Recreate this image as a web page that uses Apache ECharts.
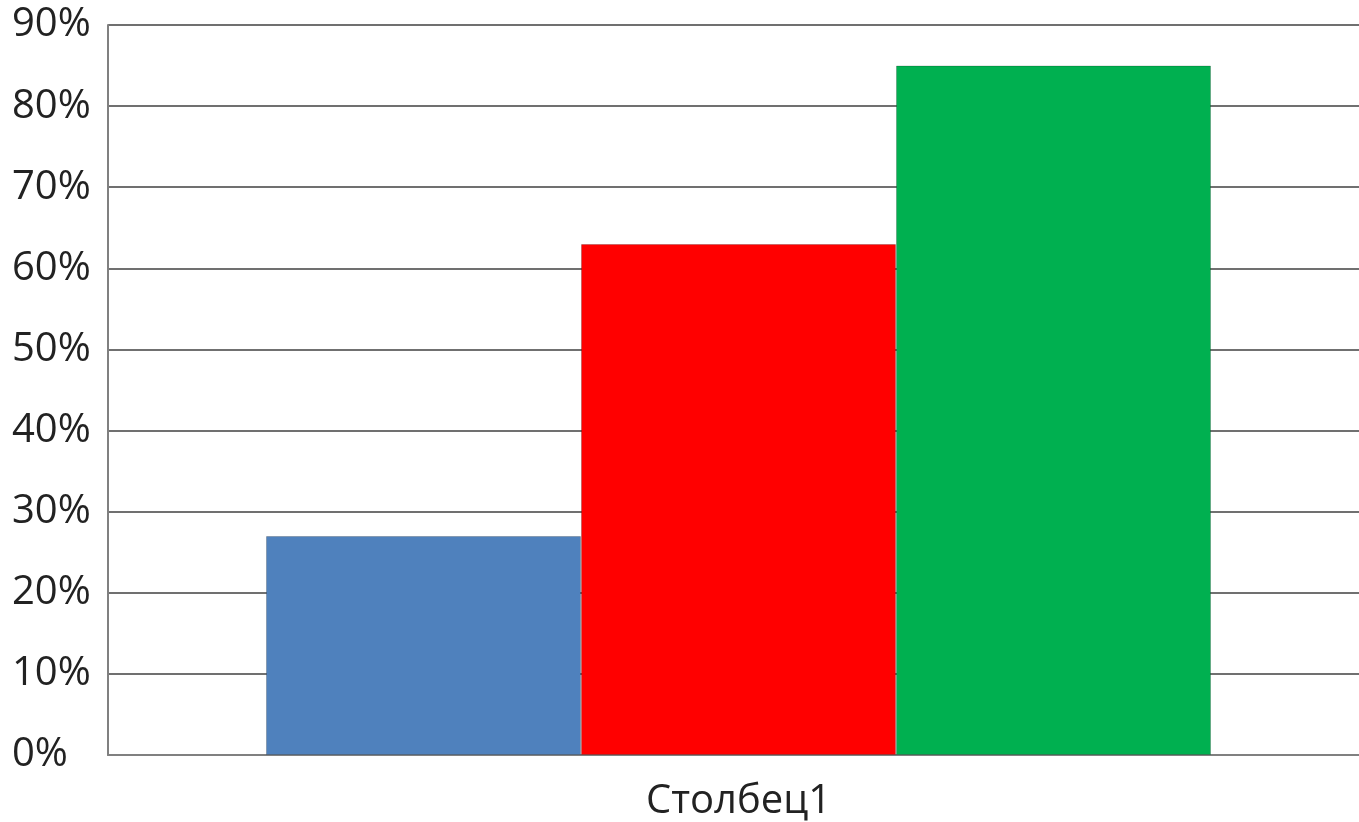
<!DOCTYPE html>
<html>
<head>
<meta charset="utf-8">
<script src="https://cdn.jsdelivr.net/npm/echarts@6/dist/echarts.min.js"></script>
<style>
html, body { margin: 0; padding: 0; background: #fff; }
#chart { width: 1359px; height: 822px; }
</style>
</head>
<body>
<div id="chart"></div>
<script>
var categories = ["Столбец1"];
var seriesNames = ["Ряд 1", "Ряд 2", "Ряд 3"];
var seriesValues = [[27], [63], [85]];
var seriesColors = ["#4f81bd", "#ff0000", "#00b050"];

var chart = echarts.init(document.getElementById("chart"));
var series = seriesNames.map(function (name, i) {
    return {
        name: name,
        type: "bar",
        data: seriesValues[i],
        barWidth: 315,
        barGap: "0%",
        itemStyle: {
            color: seriesColors[i],
            borderColor: "rgba(0,0,0,0.2)",
            borderWidth: 1
        }
    };
});

chart.setOption({
    animation: false,
    textStyle: { fontFamily: "Open Sans" },
    grid: {
        left: 108, right: -10, top: 25, bottom: 67,
        containLabel: false, outerBoundsMode: "none"
    },
    xAxis: {
        type: "category",
        data: categories,
        axisLine: { lineStyle: { color: "#808080", width: 2 } },
        axisTick: { show: false },
        axisLabel: { fontSize: 40, color: "#222", margin: 27, fontFamily: "Open Sans" }
    },
    yAxis: {
        type: "value",
        min: 0,
        max: 90,
        interval: 10,
        axisLine: { show: true, lineStyle: { color: "#808080", width: 2 } },
        axisTick: { show: false },
        splitLine: { lineStyle: { color: "#707070", width: 2 } },
        axisLabel: {
            fontSize: 40,
            color: "#222",
            margin: 96,
            align: "left",
            lineHeight: 52,
            verticalAlign: "middle",
            fontFamily: "Open Sans",
            formatter: "{value}%"
        }
    },
    series: series
});
</script>
</body>
</html>
